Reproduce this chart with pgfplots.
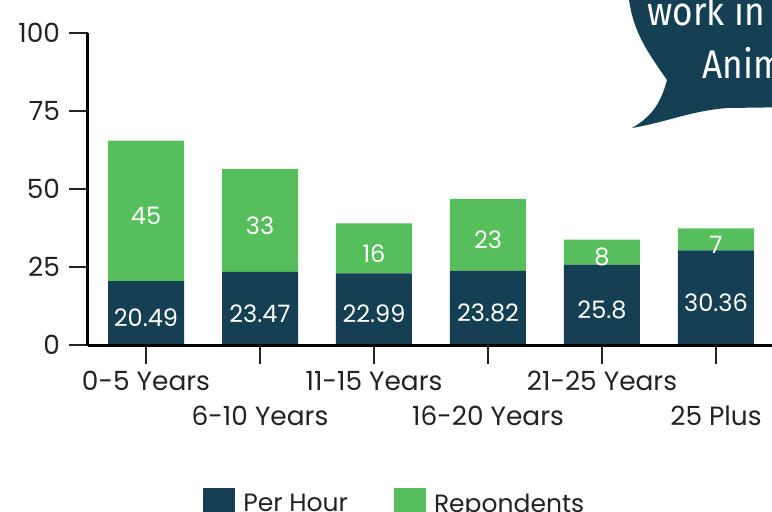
\documentclass[border=0pt]{standalone}
\usepackage{pgfplots}
\pgfplotsset{compat=1.18}
\usepackage{pgfplotstable}
\usepackage{fontspec}
\setmainfont{Poppins}
\newfontfamily\bubblefont[FakeStretch=0.88]{Fira Sans}
\definecolor{navy}{HTML}{153F52}
\definecolor{leaf}{HTML}{56BE5B}
\definecolor{ink}{HTML}{222222}

% hourly rate and number of respondents by experience
\pgfplotstableread{
x ph resp
0 20.49 45
1 23.47 33
2 22.99 16
3 23.82 23
4 25.8 8
5 30.36 7
}\data

\begin{document}
\begin{tikzpicture}[x=0.5pt,y=0.5pt]
\path[use as bounding box] (0,0) rectangle (772,511);
\clip (0,0) rectangle (772,511);
\begin{axis}[
  at={(44pt,83pt)}, anchor=south west,
  scale only axis, width=353.9pt, height=156pt,
  xmin=-0.5088, xmax=5.7, ymin=0, ymax=100,
  axis lines=left,
  axis line style={-, line width=1.5pt, black},
  axis on top,
  ybar stacked, bar width=38pt,
  ytick={0,25,50,75,100},
  xtick={0,2,4},
  xticklabels={0-5 Years, 11-15 Years, 21-25 Years},
  extra x ticks={1,3,5},
  extra x tick labels={6-10 Years, 16-20 Years, 25 Plus},
  extra x tick style={xticklabel style={yshift=-17.5pt}},
  xticklabel style={text=ink, font=\fontsize{13.2}{15}\selectfont},
  yticklabel style={text=ink, font=\fontsize{13.2}{15}\selectfont, xshift=-1pt},
  /pgf/number format/assume math mode=true,
  tick align=outside,
  major tick length=9.5pt,
  tick style={line width=1pt, ink, solid},
  nodes near coords={\pgfplotspointmeta},
  point meta=explicit symbolic,
  every node near coord/.append style={anchor=center, text=white,
    font=\fontsize{12}{14}\selectfont, yshift=-2.5pt},
  legend style={at={(0.1625,-0.4583)}, anchor=north west, draw=none, fill=none,
    inner sep=0pt, font=\fontsize{12.5}{15}\selectfont, text=ink,
    legend columns=2,
    /tikz/every odd column/.style={column sep=2pt},
    /tikz/every even column/.style={column sep=21pt}},
  legend image code/.code={\fill[#1] (0pt,-8pt) rectangle (16pt,8pt);},
]
\addplot[fill=navy, draw=none] table[x=x, y=ph, meta=ph]{\data};
\addlegendentry{Per Hour}
\addplot[fill=leaf, draw=none] table[x=x, y=resp, meta=resp]{\data};
\addlegendentry{Repondents}
\end{axis}
% speech bubble in the top right corner
\fill[navy] (628,520) to[out=-85,in=125] (667,431) to[out=-105,in=30] (632,383)
  to[out=10,in=185] (727,403) -- (800,404) -- (800,520) -- cycle;
\node[anchor=base west, inner sep=0pt, text=white, font=\bubblefont\fontsize{20}{24}\selectfont] at (647,486) {work in};
\node[anchor=base west, inner sep=0pt, text=white, font=\bubblefont\fontsize{20}{24}\selectfont] at (702,433) {Anim};
\end{tikzpicture}
\end{document}
